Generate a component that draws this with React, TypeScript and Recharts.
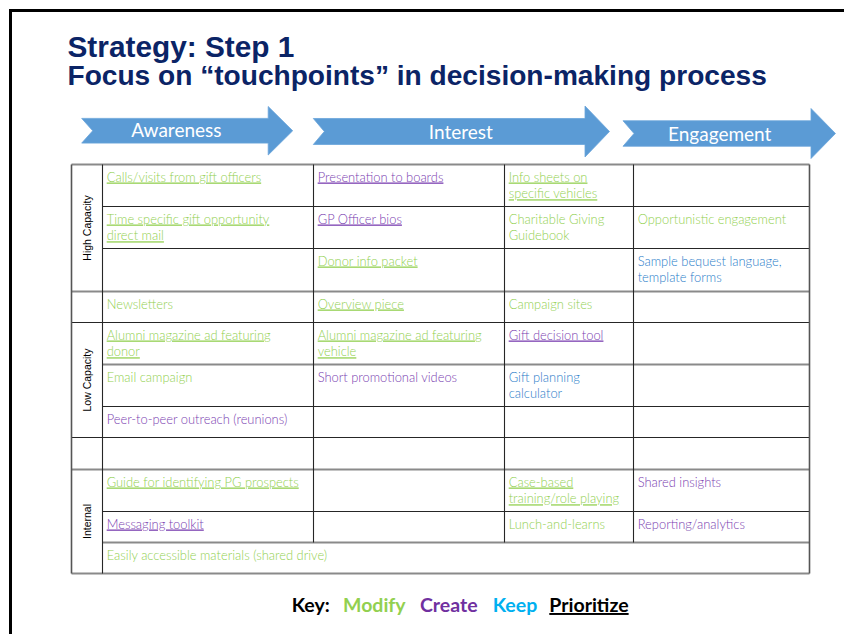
import React from 'react';
import { ComposedChart, XAxis, YAxis, Scatter, ReferenceLine, ReferenceArea } from 'recharts';

// ---------- content ----------
const titleLines = ['Strategy: Step 1', 'Focus on \u201Ctouchpoints\u201D in decision-making process'];
const stages = ['Awareness', 'Interest', 'Engagement'];
const groupLabels = ['High Capacity', 'Low Capacity', 'Internal'];
const keyWords = ['Key:', 'Modify', 'Create', 'Keep', 'Prioritize'];

// kind codes: M = modify, C = create, K = keep ; "!" = prioritize (underlined)
const awarenessCells = [
  'Calls/visits from gift officers', 'Time specific gift opportunity\ndirect mail', '', 'Newsletters',
  'Alumni magazine ad featuring\ndonor', 'Email campaign', 'Peer-to-peer outreach (reunions)', '',
  'Guide for identifying PG prospects', 'Messaging toolkit', 'Easily accessible materials (shared drive)',
];
const awarenessKinds = ['M!', 'M!', '', 'M', 'M!', 'M', 'C', '', 'M!', 'C!', 'M'];

const interestCellsA = [
  'Presentation to boards', 'GP Officer bios', 'Donor info packet', 'Overview piece',
  'Alumni magazine ad featuring\nvehicle', 'Short promotional videos', '', '', '', '', '',
];
const interestKindsA = ['C!', 'C!', 'M!', 'M!', 'M!', 'C', '', '', '', '', ''];

const interestCellsB = [
  'Info sheets on\nspecific vehicles', 'Charitable Giving\nGuidebook', '', 'Campaign sites',
  'Gift decision tool', 'Gift planning\ncalculator', '', '', 'Case-based\ntraining/role playing', 'Lunch-and-learns', '',
];
const interestKindsB = ['M!', 'M', '', 'M', 'C!', 'K', '', '', 'M!', 'M', ''];

const engagementCells = [
  '', 'Opportunistic engagement', 'Sample bequest language,\ntemplate forms', '',
  '', '', '', '', 'Shared insights', 'Reporting/analytics', '',
];
const engagementKinds = ['', 'M', 'K', '', '', '', '', '', 'C', 'C', ''];

// ---------- layout (px space of the 844x634 slide) ----------
const W = 844;
const H = 634;
const colEdges = [71.5, 102.5, 313.5, 504.5, 633.5, 809.5];
const rowTops = [164.5, 206.5, 248.5, 291.5, 322.5, 364.5, 406.5, 437.5, 469.5, 511.5, 542.5];
const tableBottom = 573.5;
const groupRowSpans = [[0, 3], [4, 7], [8, 11]];
const fullWidthRows = [0, 3, 4, 7, 8];
const grayRows = [0, 3, 5, 8, 10];
const arrowBoxes = [
  { x1: 81.7, x2: 292.7, y1: 106.5, y2: 155 },
  { x1: 313.3, x2: 609.5, y1: 106, y2: 157 },
  { x1: 623, x2: 835.5, y1: 108.5, y2: 158.5 },
];
const stageTextX = [176.4, 460.8, 719.7];
const stageTextY = [137, 138.6, 141.2];
const keyX = [291.7, 343, 420, 492.7, 549.3];
const keyY = 612;
const titleX = 67.5;
const titleY = [56.8, 85];
const titleSizes = [29.8, 28.1];

const KIND_COLORS = { M: '#92d050', C: '#7a3eb0', K: '#2a7dc9' };
const KEY_COLORS = ['#000000', '#92d050', '#7030a0', '#00b0f0', '#000000'];
const NAVY = '#0b2466';
const ARROW_FILL = '#5b9bd5';

const columns = [
  [awarenessCells, awarenessKinds],
  [interestCellsA, interestKindsA],
  [interestCellsB, interestKindsB],
  [engagementCells, engagementKinds],
];

const cellPoints = [];
columns.forEach(([cells, kinds], c) => {
  cells.forEach((txt, r) => {
    if (!txt) return;
    const k = kinds[r];
    cellPoints.push({ x: colEdges[c + 1] + 4.2, y: rowTops[r], label: txt, color: KIND_COLORS[k[0]], prio: k.includes('!') });
  });
});

const titlePoints = titleLines.map((t, i) => ({ x: titleX, y: titleY[i], label: t, size: titleSizes[i] }));
const stagePoints = stages.map((s, i) => ({ x: stageTextX[i], y: stageTextY[i], label: s }));
const keyPoints = keyWords.map((k, i) => ({ x: keyX[i], y: keyY, label: k, color: KEY_COLORS[i], prio: i === 4 }));
const groupPoints = groupLabels.map((g, i) => {
  const [a, b] = groupRowSpans[i];
  const top = rowTops[a];
  const bot = b < rowTops.length ? rowTops[b] : tableBottom;
  return { x: (colEdges[0] + colEdges[1]) / 2, y: (top + bot) / 2, label: g };
});

// ---------- shapes ----------
const CellText = (p) => {
  const { cx, cy, payload } = p;
  const lines = payload.label.split('\n');
  return (
    <g>
      {lines.map((ln, i) => (
        <text key={i} x={cx} y={cy + 17 + i * 16.8} fill={payload.color} fontFamily="Lato, 'Open Sans', sans-serif"
          fontSize={12.9} fontWeight={300} textDecoration={payload.prio ? 'underline' : undefined}>{ln}</text>
      ))}
    </g>
  );
};

const TitleText = (p) => {
  const { cx, cy, payload } = p;
  return (
    <text x={cx} y={cy} fill={NAVY} fontFamily="'Liberation Sans', Arial, sans-serif" fontWeight="bold" fontSize={payload.size}>
      {payload.label}
    </text>
  );
};

const StageText = (p) => {
  const { cx, cy, payload } = p;
  return (
    <text x={cx} y={cy} fill="#ffffff" textAnchor="middle" fontFamily="Lato, sans-serif" fontSize={19}>{payload.label}</text>
  );
};

const KeyText = (p) => {
  const { cx, cy, payload } = p;
  return (
    <text x={cx} y={cy} fill={payload.color} fontFamily="Lato, sans-serif" fontWeight="bold" fontSize={19.5}
      textDecoration={payload.prio ? 'underline' : undefined}>{payload.label}</text>
  );
};

const GroupText = (p) => {
  const { cx, cy, payload } = p;
  return (
    <text x={cx} y={cy} fill="#000" textAnchor="middle" dominantBaseline="central" fontFamily="'Liberation Sans', Arial, sans-serif"
      fontSize={10.5} transform={`rotate(-90 ${cx} ${cy})`}>{payload.label}</text>
  );
};

const ArrowShape = (p) => {
  const { x, y, width, height } = p;
  const cy = y + height / 2;
  const bh = height * 0.255;
  const head = 24.5;
  const notch = 11;
  const xh = x + width - head;
  const pts = [
    [x, cy - bh], [xh, cy - bh], [xh, y], [x + width, cy], [xh, y + height], [xh, cy + bh], [x, cy + bh], [x + notch, cy],
  ].map((q) => q.join(',')).join(' ');
  return <polygon points={pts} fill={ARROW_FILL} stroke="#6aa5da" strokeWidth={0.8} />;
};

const DARK = '#262626';
const GRAY = '#8a8a8a';

export default function App() {
  const hLines = [...rowTops, tableBottom].map((yv, r) => {
    const full = fullWidthRows.includes(r) || r === rowTops.length;
    const gray = grayRows.includes(r) || r === rowTops.length;
    return (
      <ReferenceLine key={`h${r}`} ifOverflow="visible"
        segment={[{ x: full ? colEdges[0] : colEdges[1], y: yv }, { x: colEdges[5], y: yv }]}
        stroke={gray ? GRAY : DARK} strokeWidth={gray ? 1.8 : 1.1} />
    );
  });
  const vLines = colEdges.map((xv, i) => {
    const inner = i >= 2 && i <= 4;
    const yEnd = inner ? rowTops[10] : tableBottom;
    const outer = i === 0 || i === 5;
    return (
      <ReferenceLine key={`v${i}`} ifOverflow="visible"
        segment={[{ x: xv, y: rowTops[0] }, { x: xv, y: yEnd }]}
        stroke={outer ? '#555' : DARK} strokeWidth={outer ? 1.6 : 1.1} />
    );
  });

  return (
    <div style={{ position: 'absolute', left: 0, top: 0, width: W, height: H, background: '#fff' }}>
      <ComposedChart width={W} height={H} margin={{ top: 0, right: 0, bottom: 0, left: 0 }}>
        <XAxis type="number" dataKey="x" domain={[0, W]} hide allowDataOverflow />
        <YAxis type="number" dataKey="y" domain={[0, H]} reversed hide allowDataOverflow />
        <ReferenceArea x1={10.5} x2={W + 10} y1={10.5} y2={H + 10} ifOverflow="visible" fill="none" fillOpacity={0}
          stroke="#000" strokeWidth={3} />
        {arrowBoxes.map((b, i) => (
          <ReferenceArea key={`a${i}`} x1={b.x1} x2={b.x2} y1={b.y1} y2={b.y2} ifOverflow="visible" shape={ArrowShape} />
        ))}
        {hLines}
        {vLines}
        <Scatter name="title" data={titlePoints} shape={TitleText} isAnimationActive={false} />
        <Scatter name="stages" data={stagePoints} shape={StageText} isAnimationActive={false} />
        <Scatter name="groups" data={groupPoints} shape={GroupText} isAnimationActive={false} />
        <Scatter name="cells" data={cellPoints} shape={CellText} isAnimationActive={false} />
        <Scatter name="key" data={keyPoints} shape={KeyText} isAnimationActive={false} />
      </ComposedChart>
    </div>
  );
}
